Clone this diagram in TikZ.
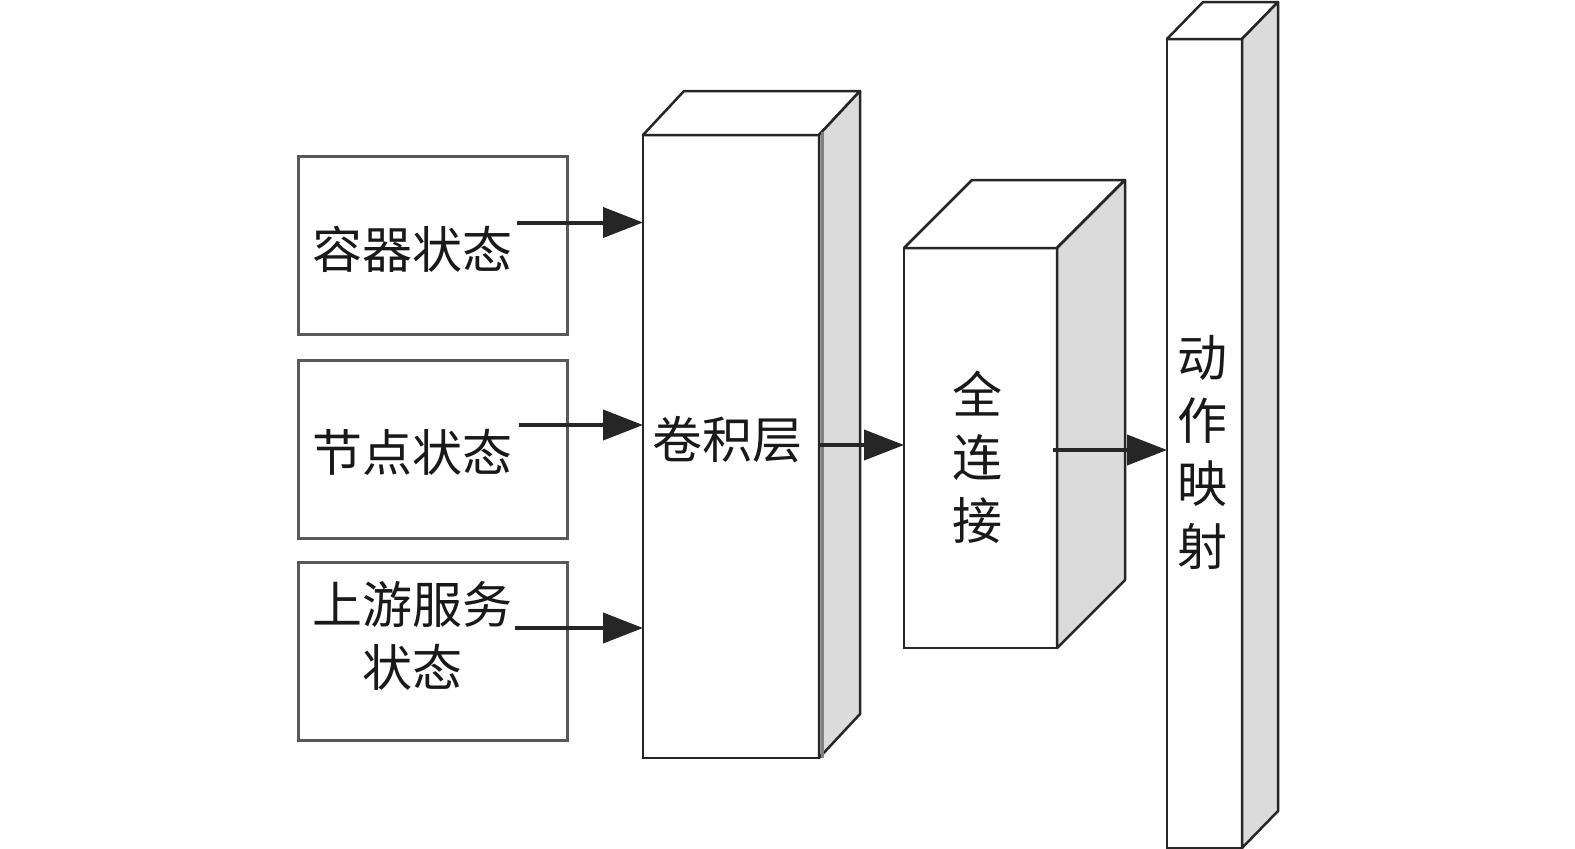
\documentclass[tikz,border=0pt]{standalone}
\usepackage{fontspec}
\newfontfamily\cjk{Noto Sans CJK SC}
\usetikzlibrary{calc,arrows.meta}
\begin{document}
\begin{tikzpicture}[x=1pt,y=-1pt,
 inbox/.style={draw=black!65, line width=3pt, minimum width=269pt, minimum height=178pt, inner sep=0pt, outer sep=0pt},
 front/.style={draw=black!85, fill=white, line width=2.5pt, inner sep=0pt, outer sep=0pt},
 topface/.style={draw=black!85, fill=white, line width=2.5pt, line join=round},
 sideface/.style={draw=black!85, fill=black!14, line width=2.5pt, line join=round},
 lbl/.style={font=\cjk\fontsize{50}{63}\selectfont, text=black!90, inner sep=0pt, align=center},
 arr/.style={line width=4pt, draw=black!85, -{Triangle[length=40pt,width=30pt]}}]
\useasboundingbox (0,0) rectangle (1575,849);

% input boxes
\node[inbox] (b1) at (432.5,245.5) {};
\node[inbox] (b2) at (432.5,449) {};
\node[inbox] (b3) at (432.5,651) {};
\node[lbl] (t1) at ($(b1.center)+(-20,4)$) {容器状态};
\node[lbl] (t2) at ($(b2.center)+(-20,3)$) {节点状态};
\node[lbl] (t3) at ($(b3.center)+(-20,-15)$) {上游服务\\状态};

% convolution block
\node[front, minimum width=176pt, minimum height=623pt] (conv) at (731,446.5) {};
\draw[topface] (conv.north west) -- ++(41,-44) -- ($(conv.north east)+(41,-44)$) -- (conv.north east) -- cycle;
\draw[sideface] (conv.north east) -- ++(41,-44) -- ($(conv.south east)+(41,-44)$) -- (conv.south east) -- cycle;
\draw[black!50, line width=3pt] ($(conv.north east)+(3.5,-3)$) -- ($(conv.south east)+(3.5,0)$);
\node[lbl] (tc) at (727,440) {卷积层};

% fully connected block
\node[front, minimum width=153pt, minimum height=400pt] (fc) at (980.5,448) {};
\draw[topface] (fc.north west) -- ++(68,-68) -- ($(fc.north east)+(68,-68)$) -- (fc.north east) -- cycle;
\draw[sideface] (fc.north east) -- ++(68,-68) -- ($(fc.south east)+(68,-68)$) -- (fc.south east) -- cycle;
\node[lbl] (tf) at (977,457) {全\\连\\接};

% action block
\node[front, minimum width=75pt, minimum height=809pt] (act) at (1204.5,443.5) {};
\draw[topface] (act.north west) -- ++(36,-37) -- ($(act.north east)+(36,-37)$) -- (act.north east) -- cycle;
\draw[sideface] (act.north east) -- ++(36,-37) -- ($(act.south east)+(36,-37)$) -- (act.south east) -- cycle;
\node[lbl] (ta) at (1202,452) {动\\作\\映\\射};

% arrows
\coordinate (s1) at ($(b1.east)+(-50,-23)$);
\coordinate (s2) at ($(b2.east)+(-48,-24)$);
\coordinate (s3) at ($(b3.east)+(-52,-23)$);
\draw[arr] (s1) -- (s1 -| conv.west);
\draw[arr] (s2) -- (s2 -| conv.west);
\draw[arr] (s3) -- (s3 -| conv.west);
\coordinate (s4) at ($(conv.east)+(0,-1.5)$);
\draw[arr] (s4) -- (s4 -| fc.west);
\coordinate (s5) at ($(fc.east)+(-4,2)$);
\draw[arr] (s5) -- (s5 -| act.west);
\end{tikzpicture}
\end{document}
